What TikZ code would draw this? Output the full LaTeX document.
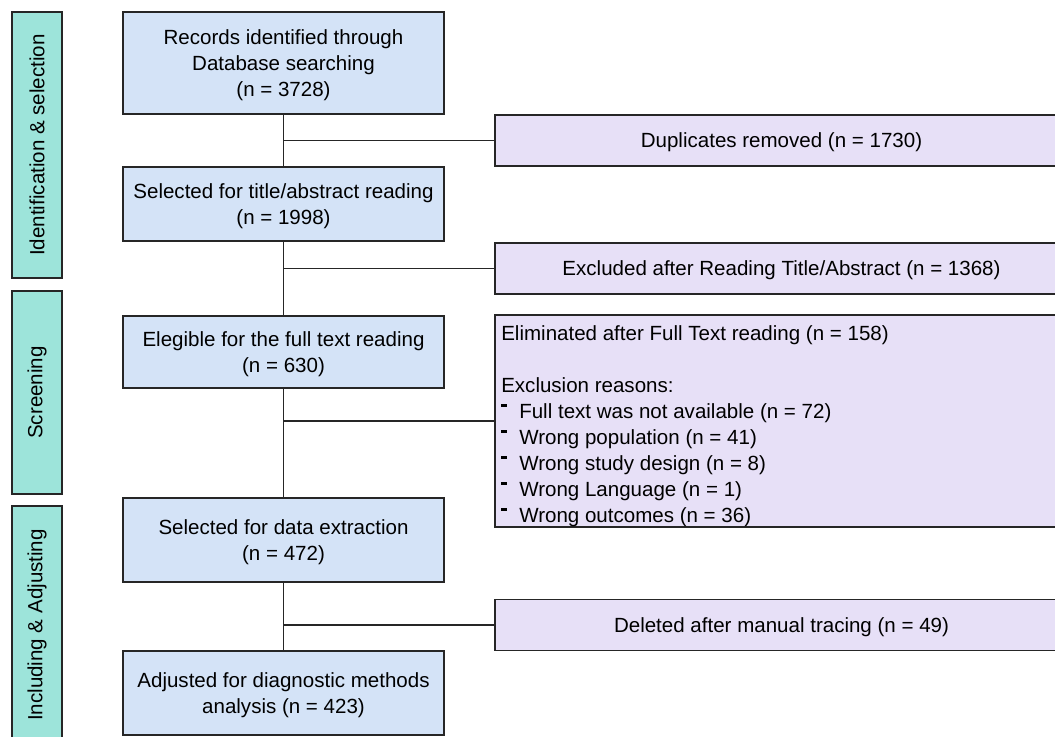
\documentclass[tikz,border=0pt]{standalone}
\usepackage{fontspec}
\setmainfont{Liberation Sans}
\usetikzlibrary{positioning}

\definecolor{recblue}{RGB}{212,227,247}
\definecolor{exclpurple}{RGB}{231,224,247}
\definecolor{stageteal}{RGB}{157,228,218}
\definecolor{edgegray}{RGB}{38,38,38}

\newcommand{\reason}[1]{\makebox[13.5pt][l]{\rule[8.5pt]{4.5pt}{2pt}}#1}

\begin{document}
\begin{tikzpicture}[x=0.75pt, y=-0.75pt, every node/.style={font=\fontsize{15.4}{19.5}\selectfont, inner sep=0pt},
	recbox/.style={draw=edgegray, line width=1.25pt, fill=recblue, align=center, text depth=0pt, minimum width=240.75pt},
	exclbox/.style={draw=edgegray, line width=1.25pt, fill=exclpurple, align=center, text depth=0pt, minimum width=429.75pt, minimum height=38.25pt},
	stage/.style={draw=edgegray, line width=1.25pt, fill=stageteal, rotate=90, minimum height=37.5pt},
	link/.style={draw=edgegray, line width=1pt}]

		\useasboundingbox (0,0) rectangle (1055,737);

		% phases on the left
		\node [stage, minimum width=199.5pt] (idsel) at (37,145) {Identification \& selection};
		\node [stage, minimum width=152.25pt] (screen) at (37,392.5) {Screening};
		\node [stage, minimum width=178.5pt] (incl) at (37,625) {Including \& Adjusting};

		% main flow
		\node [recbox, minimum height=76.5pt] (records) at (283.5,63) {Records identified through \\ Database searching \\ (n = 3728)};
		\node [recbox, minimum height=55.5pt] (titleabs) at (283.5,204) {Selected for title/abstract reading \\ (n = 1998)};
		\node [recbox, minimum height=54pt] (fulltext) at (283.5,351.7) {Elegible for the full text reading \\ (n = 630)};
		\node [recbox, minimum height=62.7pt] (extract) at (283.5,540) {Selected for data extraction \\ (n = 472)};
		\node [recbox, minimum height=63pt] (adjusted) at (283.5,693) {Adjusted for diagnostic methods \\ analysis (n = 423)};

		% exclusions on the right
		\node [exclbox] (dupl) at (781.5,140.5) {Duplicates removed (n = 1730)};
		\node [exclbox] (exabs) at (781.5,268.5) {Excluded after Reading Title/Abstract (n = 1368)};
		\node [exclbox, minimum height=159pt] (elim) at (781.5,421) {};
		\node [exclbox] (deleted) at (781.5,625) {Deleted after manual tracing (n = 49)};

		\begin{scope}
			\clip ([yshift=1.2pt]elim.south west) rectangle (elim.north east);
			\node [anchor=north west, align=left] (elimtext) at (501,325)
			{Eliminated after Full Text reading (n = 158) \\ \\
			 Exclusion reasons: \\
			 \reason{Full text was not available (n = 72)} \\
			 \reason{Wrong population (n = 41)} \\
			 \reason{Wrong study design (n = 8)} \\
			 \reason{Wrong Language (n = 1)} \\
			 \reason{Wrong outcomes (n = 36)}};
		\end{scope}

		% connectors
		\draw [link] (records) -- (titleabs);
		\draw [link] (titleabs) -- (fulltext);
		\draw [link] (fulltext) -- (extract);
		\draw [link] (extract) -- (adjusted);

		\draw [link] (records.south |- dupl.west) -- (dupl.west);
		\draw [link] (titleabs.south |- exabs.west) -- (exabs.west);
		\draw [link] (fulltext.south |- elim.west) -- (elim.west);
		\draw [link] (extract.south |- deleted.west) -- (deleted.west);

\end{tikzpicture}
\end{document}
